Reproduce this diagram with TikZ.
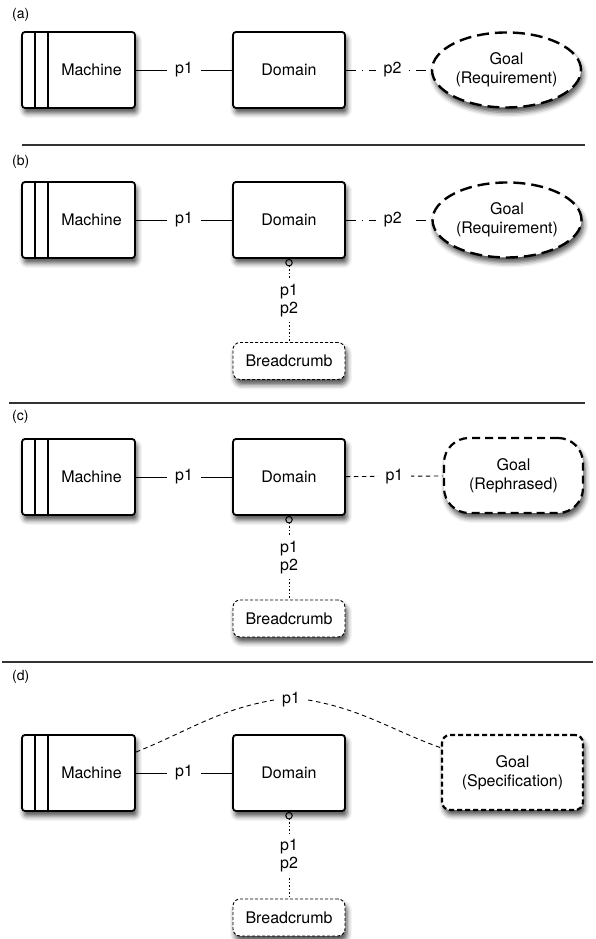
\documentclass[tikz,border=0pt]{standalone}
\usepackage{fontspec}
\setmainfont{TeX Gyre Heros}
\usetikzlibrary{positioning, arrows.meta, shapes.geometric, shadows.blur}

\begin{document}
\begin{tikzpicture}[x=1pt, y=1pt,
    every node/.style={font=\fontsize{16}{19}\selectfont, align=center},
    shade box/.style={fill=white, blur shadow={shadow xshift=2pt, shadow yshift=-5pt, shadow blur radius=5pt, shadow opacity=70}},
    box/.style={shade box, draw, line width=1.8pt, rounded corners=3pt, minimum width=112pt, minimum height=76pt, inner sep=0pt},
    machine/.style={box, minimum width=113pt,
        path picture={
            \draw[line width=1.8pt] ([xshift=13pt]path picture bounding box.north west) -- ([xshift=13pt]path picture bounding box.south west);
            \draw[line width=1.8pt] ([xshift=26pt]path picture bounding box.north west) -- ([xshift=26pt]path picture bounding box.south west);
        }},
    goal req/.style={shade box, draw, ellipse, line width=2.4pt, dash pattern=on 12pt off 6pt, minimum width=149pt, minimum height=75pt, inner sep=0pt},
    goal reph/.style={shade box, draw, line width=2.2pt, dash pattern=on 8pt off 5pt, rounded corners=25pt, minimum width=139pt, minimum height=75pt, inner sep=0pt},
    goal spec/.style={shade box, draw, line width=2.2pt, dash pattern=on 5pt off 3pt, rounded corners=8pt, minimum width=141pt, minimum height=75pt, inner sep=0pt},
    crumb/.style={shade box, draw, line width=0.9pt, dash pattern=on 3pt off 2pt, rounded corners=7pt, minimum width=112pt, minimum height=37pt, inner sep=0pt},
    link/.style={line width=0.9pt},
    dd link/.style={line width=0.9pt, dash pattern=on 10pt off 6pt on 1.5pt off 6pt},
    fine link/.style={line width=0.9pt, dash pattern=on 4.5pt off 3.5pt},
    crumb link/.style={line width=1pt, dash pattern=on 1.5pt off 2pt, {Circle[open, length=7.5pt, width=7.5pt, line width=1pt]}-},
    lbl/.style={fill=white, inner xsep=8pt, inner ysep=2pt},
    stack lbl/.style={fill=white, inner xsep=2pt, inner ysep=5pt, font=\fontsize{16}{18}\selectfont},
    tag/.style={anchor=west, inner sep=0pt, font=\fontsize{14}{17}\selectfont},
    sep/.style={line width=1.1pt, black!80}
]
\useasboundingbox (0,0) rectangle (596,939);

% === (a) ===
\node[tag] (tagA) at (12,924) {(a)};
\node[machine] (machA) at (78.5,869) {\hspace*{26pt}Machine};
\node[box] (domA) at (289,869) {Domain};
\node[goal req] (goalA) at (506.5,869) {Goal\\(Requirement)};
\draw[link] (machA) -- node[lbl] {p1} (domA);
\draw[dd link] (domA) -- node[lbl, pos=0.55] {p2} (goalA);

\draw[sep] (22,794) -- (585,794);

% === (b) ===
\node[tag] (tagB) at (12,777) {(b)};
\node[machine] (machB) at (78.5,719) {\hspace*{26pt}Machine};
\node[box] (domB) at (289,719) {Domain};
\node[goal req] (goalB) at (507,719) {Goal\\(Requirement)};
\node[crumb] (crumbB) at (289,578) {Breadcrumb};
\draw[link] (machB) -- node[lbl] {p1} (domB);
\draw[dd link] (domB) -- node[lbl, pos=0.55] {p2} (goalB);
\draw[crumb link] (domB.south) -- node[stack lbl] {p1\\p2} (crumbB.north);

\draw[sep] (9,536) -- (585,536);

% === (c) ===
\node[tag] (tagC) at (12,522) {(c)};
\node[machine] (machC) at (78.5,462) {\hspace*{26pt}Machine};
\node[box] (domC) at (289,462) {Domain};
\node[goal reph] (goalC) at (513.5,463.5) {Goal\\(Rephrased)};
\node[crumb] (crumbC) at (289,320.5) {Breadcrumb};
\draw[link] (machC) -- node[lbl] {p1} (domC);
\draw[fine link] (domC) -- node[lbl] {p1} (goalC);
\draw[crumb link] (domC.south) -- node[stack lbl] {p1\\p2} (crumbC.north);

\draw[sep] (2,277) -- (593,277);

% === (d) ===
\node[tag] (tagD) at (12,262) {(d)};
\node[machine] (machD) at (78.5,166) {\hspace*{26pt}Machine};
\node[box] (domD) at (289,166) {Domain};
\node[goal spec] (goalD) at (512.5,166.5) {Goal\\(Specification)};
\node[crumb] (crumbD) at (289,21.5) {Breadcrumb};
\node[lbl, inner ysep=0pt] (lblD) at (291,239) {p1};
\draw[link] (machD) -- node[lbl] {p1} (domD);
\draw[fine link] (machD.20) to[out=22, in=-170] (lblD.west);
\draw[fine link] (lblD.east) to[out=-10, in=160] (goalD.161);
\draw[crumb link] (domD.south) -- node[stack lbl] {p1\\p2} (crumbD.north);

\end{tikzpicture}
\end{document}
